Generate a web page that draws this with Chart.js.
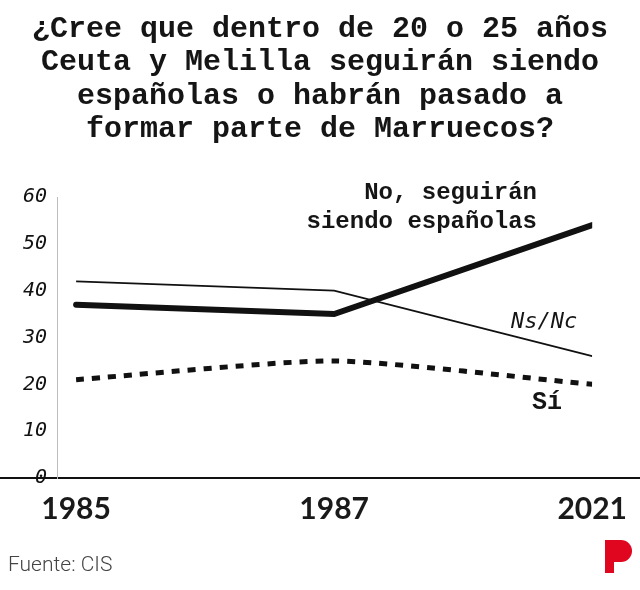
<!DOCTYPE html>
<html>
<head>
<meta charset="utf-8">
<script src="https://cdn.jsdelivr.net/npm/chart.js@4"></script>
<style>
  html, body { margin: 0; padding: 0; background: #fff; }
  #wrap { position: relative; width: 640px; height: 590px; overflow: hidden; }
  #chart { position: absolute; left: 0; top: 0; }
  .title {
    position: absolute; left: 0; top: 13px; width: 640px; text-align: center;
    font: bold 30px/33.3px "Liberation Mono", monospace; color: #151515;
  }
  .lbl { position: absolute; font-family: "Liberation Mono", monospace; color: #151515; white-space: nowrap; }
  .no { right: 103px; top: 178px; font-size: 24px; font-weight: bold; line-height: 29px; text-align: right; }
  .ns { left: 511px; top: 307px; font-size: 23.5px; font-style: italic; font-family: "DejaVu Sans Mono", monospace; font-size: 22px; top: 308px; }
  .si { left: 532px; top: 388px; font-size: 25px; font-weight: bold; }
  .src { position: absolute; left: 8px; top: 552px; font: 300 21px Roboto, sans-serif; color: #444; }
  .logo { position: absolute; left: 605px; top: 540px; width: 27px; height: 33px; }
  .logo .stem { position: absolute; left: 0; top: 0; width: 9px; height: 33px; background: #e1061f; }
  .logo .bowl { position: absolute; left: 0; top: 0; width: 27px; height: 22px; background: #e1061f; border-radius: 0 11px 11px 0; }
</style>
</head>
<body>
<div id="wrap">
  <canvas id="chart" width="640" height="590"></canvas>
  <div class="title">¿Cree que dentro de 20 o 25 años<br>Ceuta y Melilla seguirán siendo<br>españolas o habrán pasado a<br>formar parte de Marruecos?</div>
  <div class="lbl no">No, seguirán<br>siendo españolas</div>
  <div class="lbl ns">Ns/Nc</div>
  <div class="lbl si">Sí</div>
  <div class="src">Fuente: CIS</div>
  <div class="logo"><div class="stem"></div><div class="bowl"></div></div>
</div>
<script>
const years = ['1985', '1987', '2021'];
const noSeguiran = [37, 35, 54];
const nsnc = [42, 40, 26];
const si = [21, 25, 20];
const yTicks = [0, 10, 20, 30, 40, 50, 60];

const toPoints = arr => arr.map((v, i) => ({ x: i, y: v }));

// black base line across the full width, under the tick labels
const baseLine = {
  id: 'baseLine',
  beforeDraw(chart) {
    const ctx = chart.ctx;
    const y = chart.scales.y.getPixelForValue(0);
    ctx.save();
    ctx.strokeStyle = '#111';
    ctx.lineWidth = 2;
    ctx.beginPath();
    ctx.moveTo(0, y);
    ctx.lineTo(chart.width, y);
    ctx.stroke();
    ctx.restore();
  }
};

const ctx = document.getElementById('chart').getContext('2d');
new Chart(ctx, {
  type: 'line',
  data: {
    datasets: [
      {
        label: 'Ns/Nc',
        data: toPoints(nsnc),
        borderColor: '#111',
        borderWidth: 1.8,
        tension: 0
      },
      {
        label: 'Sí',
        data: toPoints(si),
        borderColor: '#111',
        borderWidth: 5,
        borderDash: [8, 8],
        tension: 0.2
      },
      {
        label: 'No, seguirán siendo españolas',
        data: toPoints(noSeguiran),
        borderColor: '#111',
        borderWidth: 6,
        borderCapStyle: 'round',
        borderJoinStyle: 'miter',
        tension: 0
      }
    ]
  },
  options: {
    responsive: false,
    animation: false,
    layout: { padding: { top: 197, left: 0, right: 47, bottom: 52 } },
    elements: { point: { radius: 0 } },
    plugins: { legend: { display: false }, tooltip: { enabled: false } },
    scales: {
      x: {
        type: 'linear',
        min: -0.074,
        max: 2,
        grid: { display: false, drawTicks: false },
        border: { display: false },
        afterBuildTicks: s => { s.ticks = years.map((_, i) => ({ value: i })); },
        afterFit: s => { s.height = 60; },
        ticks: {
          padding: 13,
          maxRotation: 0,
          color: '#1a1a1a',
          font: { family: 'Lato, "Open Sans", sans-serif', size: 30, weight: 'bold' },
          callback: v => years[v]
        }
      },
      y: {
        min: 0,
        max: 60,
        grid: { display: false, drawTicks: false },
        border: { display: true, color: '#bdbdbd', width: 1 },
        afterBuildTicks: s => { s.ticks = yTicks.map(v => ({ value: v })); },
        afterFit: s => { s.width = 57; },
        ticks: {
          padding: 10,
          color: '#111',
          font: { family: '"DejaVu Sans Mono", monospace', size: 20, style: 'italic' }
        }
      }
    }
  },
  plugins: [baseLine]
});
</script>
</body>
</html>
